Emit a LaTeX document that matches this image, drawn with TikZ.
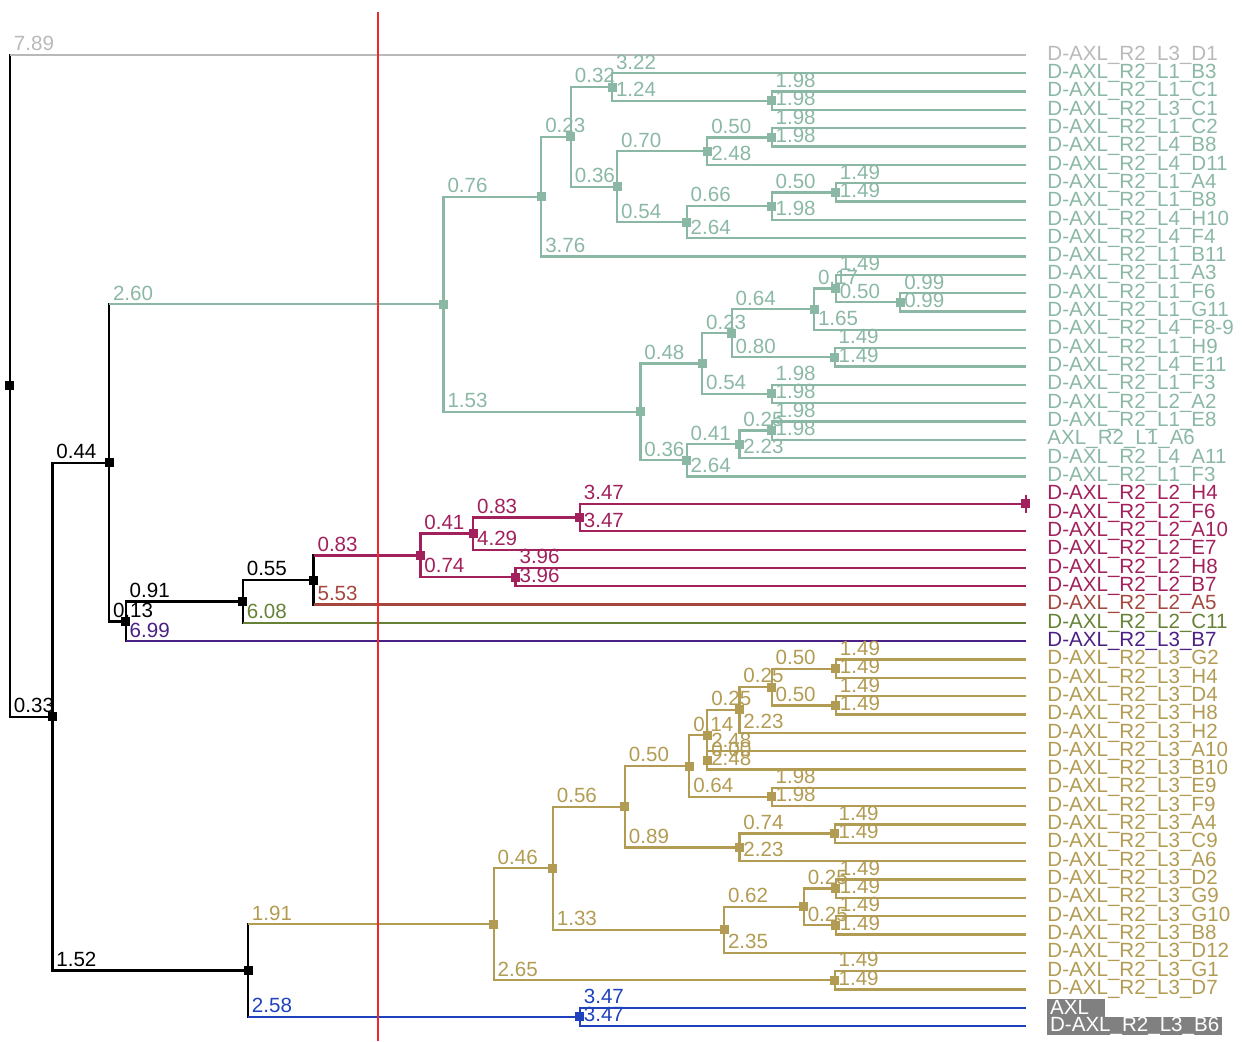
\documentclass[tikz,border=0pt]{standalone}
\usepackage{fontspec}
\setmainfont{Liberation Sans}
\definecolor{cgray}{HTML}{B9B9B9}
\definecolor{cteal}{HTML}{8BB8A5}
\definecolor{cmag}{HTML}{A2215C}
\definecolor{cbrown}{HTML}{A5473F}
\definecolor{colive}{HTML}{658236}
\definecolor{cpurp}{HTML}{4B2085}
\definecolor{cgold}{HTML}{B29B53}
\definecolor{cblue}{HTML}{1F41BD}
\definecolor{cred}{HTML}{F0282D}
\definecolor{boxgray}{HTML}{808080}

\begin{document}
\begin{tikzpicture}[x=2.573cm,y=-0.3664cm,
  font=\fontsize{11.7}{13}\selectfont,
  br/.style={line width=1.3pt},
  bl/.style={anchor=south west,inner sep=1.6pt},
  lf/.style={anchor=west,inner sep=0pt},
  hl/.style={anchor=west,inner xsep=1.5pt,inner ysep=0pt,minimum height=0.3664cm,
             fill=boxgray,text=white},
  mk/.style={rectangle,minimum size=0.18cm,inner sep=0pt}]
\useasboundingbox (-0.0777,-2.002) rectangle (9.607,54.82);

% leaf tips, one row each
\foreach \i in {1,...,54} \coordinate (L\i) at (7.895,\i);

% inner nodes at (depth, mean row of the two children)
\coordinate (root) at (0,19.0586);
\coordinate (nA) at (0.33,37.1172);
\coordinate (nB) at (0.77,23.2617);
\coordinate (nD) at (0.90,31.9141);
\coordinate (nE) at (1.81,30.8281);
\coordinate (nF) at (2.36,29.6563);
\coordinate (nC) at (1.85,50.9727);
\coordinate (nT) at (3.37,14.6094);
\coordinate (nT1) at (4.13,8.7344);
\coordinate (nT11) at (4.36,5.4688);
\coordinate (nT111) at (4.68,2.75);
\coordinate (nC1) at (5.92,3.5);
\coordinate (nT112) at (4.72,8.1875);
\coordinate (n070) at (5.42,6.25);
\coordinate (nC2) at (5.92,5.5);
\coordinate (n054) at (5.26,10.125);
\coordinate (n066) at (5.92,9.25);
\coordinate (nA4) at (6.42,8.5);
\coordinate (nT2) at (4.90,20.4844);
\coordinate (nT21) at (5.38,17.8438);
\coordinate (nT211) at (5.61,16.1875);
\coordinate (n064) at (6.25,14.875);
\coordinate (n017) at (6.42,13.75);
\coordinate (nF6) at (6.92,14.5);
\coordinate (nH9) at (6.41,17.5);
\coordinate (nF3) at (5.92,19.5);
\coordinate (nT22) at (5.26,23.125);
\coordinate (n041) at (5.67,22.25);
\coordinate (nE8) at (5.92,21.5);
\coordinate (nG) at (3.19,28.3125);
\coordinate (nH) at (3.60,27.125);
\coordinate (nJ) at (4.43,26.25);
\coordinate (nK) at (7.895,25.5);
\coordinate (nI) at (3.93,29.5);
\coordinate (nBl) at (4.43,53.5);
\coordinate (nGd) at (3.76,48.4453);
\coordinate (nG1) at (4.22,45.3906);
\coordinate (nG1b) at (6.41,51.5);
\coordinate (nG11) at (4.78,42.0313);
\coordinate (nG12) at (5.55,48.75);
\coordinate (n062) at (6.17,47.5);
\coordinate (nD2) at (6.42,46.5);
\coordinate (nG10) at (6.42,48.5);
\coordinate (nG111) at (5.28,39.8125);
\coordinate (nG112) at (5.67,44.25);
\coordinate (nA4g) at (6.41,43.5);
\coordinate (n014) at (5.42,38.125);
\coordinate (nE9) at (5.92,41.5);
\coordinate (n025a) at (5.67,36.75);
\coordinate (n000) at (5.42,39.5);
\coordinate (n025b) at (5.92,35.5);
\coordinate (nG2) at (6.42,34.5);
\coordinate (nD4) at (6.42,36.5);

% backbone: black uprights, coloured branches
\foreach \p/\c/\v/\cc in {root/L1/7.89/cgray, root/nA/0.33/black, nA/nB/0.44/black,
    nA/nC/1.52/black, nB/nT/2.60/cteal, nB/nD/0.13/black, nD/nE/0.91/black,
    nD/L33/6.99/cpurp, nE/nF/0.55/black, nE/L32/6.08/colive, nF/nG/0.83/cmag,
    nF/L31/5.53/cbrown, nC/nGd/1.91/cgold, nC/nBl/2.58/cblue}{
  \draw[br,line cap=rect] (\p) -- (\p |- \c);
  \draw[br,\cc] (\p |- \c) -- (\c) node[bl,pos=0] {\v};
}

% teal clade
\foreach \p/\c/\v in {nT/nT1/0.76, nT/nT2/1.53, nT1/nT11/0.23, nT1/L12/3.76,
    nT11/nT111/0.32, nT11/nT112/0.36, nT111/L2/3.22, nT111/nC1/1.24,
    nC1/L3/1.98, nC1/L4/1.98, nT112/n070/0.70, nT112/n054/0.54,
    n070/nC2/0.50, n070/L7/2.48, nC2/L5/1.98, nC2/L6/1.98,
    n054/n066/0.66, n054/L11/2.64, n066/nA4/0.50, n066/L10/1.98,
    nA4/L8/1.49, nA4/L9/1.49, nT2/nT21/0.48, nT2/nT22/0.36,
    nT21/nT211/0.23, nT21/nF3/0.54, nT211/n064/0.64, nT211/nH9/0.80,
    n064/n017/0.17, n064/L16/1.65, n017/L13/1.49, n017/nF6/0.50,
    nF6/L14/0.99, nF6/L15/0.99, nH9/L17/1.49, nH9/L18/1.49,
    nF3/L19/1.98, nF3/L20/1.98, nT22/n041/0.41, nT22/L24/2.64,
    n041/nE8/0.25, n041/L23/2.23, nE8/L21/1.98, nE8/L22/1.98}
  \draw[br,cteal] (\p) |- (\c) node[bl,pos=.5] {\v};

% magenta clade
\foreach \p/\c/\v in {nG/nH/0.41, nG/nI/0.74, nH/nJ/0.83, nH/L28/4.29,
    nJ/nK/3.47, nJ/L27/3.47, nI/L29/3.96, nI/L30/3.96}
  \draw[br,cmag] (\p) |- (\c) node[bl,pos=.5] {\v};
\draw[br,cmag] (L25) -- (L26);

% gold clade
\foreach \p/\c/\v in {nGd/nG1/0.46, nGd/nG1b/2.65, nG1b/L51/1.49, nG1b/L52/1.49,
    nG1/nG11/0.56, nG1/nG12/1.33, nG11/nG111/0.50, nG11/nG112/0.89,
    nG112/nA4g/0.74, nG112/L45/2.23, nA4g/L43/1.49, nA4g/L44/1.49,
    nG111/n014/0.14, nG111/nE9/0.64, nE9/L41/1.98, nE9/L42/1.98,
    n014/n025a/0.25, n014/n000/0.00, n000/L39/2.48, n000/L40/2.48,
    n025a/n025b/0.25, n025a/L38/2.23, n025b/nG2/0.50, n025b/nD4/0.50,
    nG2/L34/1.49, nG2/L35/1.49, nD4/L36/1.49, nD4/L37/1.49,
    nG12/n062/0.62, nG12/L50/2.35, n062/nD2/0.25, n062/nG10/0.25,
    nD2/L46/1.49, nD2/L47/1.49, nG10/L48/1.49, nG10/L49/1.49}
  \draw[br,cgold] (\p) |- (\c) node[bl,pos=.5] {\v};

% blue pair
\foreach \p/\c/\v in {nBl/L53/3.47, nBl/L54/3.47}
  \draw[br,cblue] (\p) |- (\c) node[bl,pos=.5] {\v};

% node markers
\foreach \n in {root,nA,nB,nD,nE,nF,nC}
  \node[mk,fill=black] (m\n) at (\n) {};
\foreach \n in {nT,nT1,nT11,nT111,nC1,nT112,n070,nC2,n054,n066,nA4,nT2,nT21,
    nT211,n064,n017,nF6,nH9,nF3,nT22,n041,nE8}
  \node[mk,fill=cteal] (m\n) at (\n) {};
\foreach \n in {nG,nH,nJ,nK,nI}
  \node[mk,fill=cmag] (m\n) at (\n) {};
\foreach \n in {nGd,nG1,nG1b,nG11,nG12,n062,nD2,nG10,nG111,nG112,nA4g,n014,
    nE9,n025a,n000,n025b,nG2,nD4}
  \node[mk,fill=cgold] (m\n) at (\n) {};
\node[mk,fill=cblue] (mnBl) at (nBl) {};

% leaf names
\foreach \i/\t/\c in {1/D-AXL\_R2\_L3\_D1/cgray, 2/D-AXL\_R2\_L1\_B3/cteal,
    3/D-AXL\_R2\_L1\_C1/cteal, 4/D-AXL\_R2\_L3\_C1/cteal, 5/D-AXL\_R2\_L1\_C2/cteal,
    6/D-AXL\_R2\_L4\_B8/cteal, 7/D-AXL\_R2\_L4\_D11/cteal, 8/D-AXL\_R2\_L1\_A4/cteal,
    9/D-AXL\_R2\_L1\_B8/cteal, 10/D-AXL\_R2\_L4\_H10/cteal, 11/D-AXL\_R2\_L4\_F4/cteal,
    12/D-AXL\_R2\_L1\_B11/cteal, 13/D-AXL\_R2\_L1\_A3/cteal, 14/D-AXL\_R2\_L1\_F6/cteal,
    15/D-AXL\_R2\_L1\_G11/cteal, 16/D-AXL\_R2\_L4\_F8-9/cteal, 17/D-AXL\_R2\_L1\_H9/cteal,
    18/D-AXL\_R2\_L4\_E11/cteal, 19/D-AXL\_R2\_L1\_F3/cteal, 20/D-AXL\_R2\_L2\_A2/cteal,
    21/D-AXL\_R2\_L1\_E8/cteal, 22/AXL\_R2\_L1\_A6/cteal, 23/D-AXL\_R2\_L4\_A11/cteal,
    24/D-AXL\_R2\_L1\_F3/cteal, 25/D-AXL\_R2\_L2\_H4/cmag, 26/D-AXL\_R2\_L2\_F6/cmag,
    27/D-AXL\_R2\_L2\_A10/cmag, 28/D-AXL\_R2\_L2\_E7/cmag, 29/D-AXL\_R2\_L2\_H8/cmag,
    30/D-AXL\_R2\_L2\_B7/cmag, 31/D-AXL\_R2\_L2\_A5/cbrown, 32/D-AXL\_R2\_L2\_C11/colive,
    33/D-AXL\_R2\_L3\_B7/cpurp, 34/D-AXL\_R2\_L3\_G2/cgold, 35/D-AXL\_R2\_L3\_H4/cgold,
    36/D-AXL\_R2\_L3\_D4/cgold, 37/D-AXL\_R2\_L3\_H8/cgold, 38/D-AXL\_R2\_L3\_H2/cgold,
    39/D-AXL\_R2\_L3\_A10/cgold, 40/D-AXL\_R2\_L3\_B10/cgold, 41/D-AXL\_R2\_L3\_E9/cgold,
    42/D-AXL\_R2\_L3\_F9/cgold, 43/D-AXL\_R2\_L3\_A4/cgold, 44/D-AXL\_R2\_L3\_C9/cgold,
    45/D-AXL\_R2\_L3\_A6/cgold, 46/D-AXL\_R2\_L3\_D2/cgold, 47/D-AXL\_R2\_L3\_G9/cgold,
    48/D-AXL\_R2\_L3\_G10/cgold, 49/D-AXL\_R2\_L3\_B8/cgold, 50/D-AXL\_R2\_L3\_D12/cgold,
    51/D-AXL\_R2\_L3\_G1/cgold, 52/D-AXL\_R2\_L3\_D7/cgold}
  \node[lf,text=\c] (t\i) at (8.061,\i) {\t};
\node[hl] (t53) at (8.061,53) {\makebox[1.05cm][l]{AXL}};
\node[hl] (t54) at (8.061,54) {D-AXL\_R2\_L3\_B6};

% cut line
\draw[cred,line width=1.2pt] (2.86,-1.35) -- (2.86,54.82);
\end{tikzpicture}
\end{document}
